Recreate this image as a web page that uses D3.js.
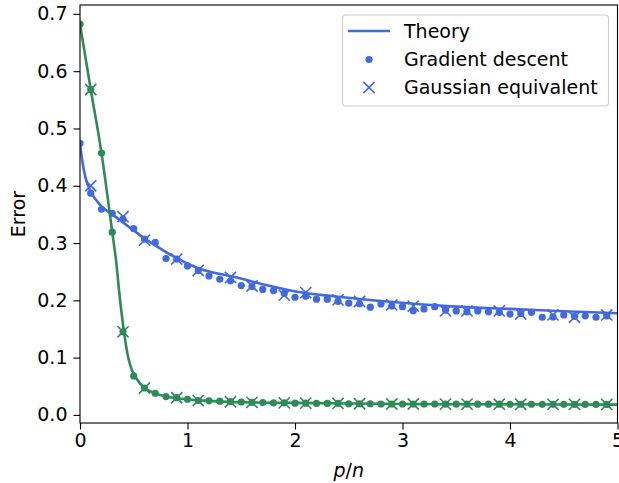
<!DOCTYPE html>
<html>
<head>
<meta charset="utf-8">
<script src="https://cdn.jsdelivr.net/npm/d3@7"></script>
<style>
  html, body { margin: 0; padding: 0; background: #fff; }
  svg { display: block; font-family: "DejaVu Sans", sans-serif; }
</style>
</head>
<body>
<svg id="chart" width="619" height="483"></svg>
<script>
// ---- data ----
const xTicks = [0, 1, 2, 3, 4, 5];
const yTicks = [0.0, 0.1, 0.2, 0.3, 0.4, 0.5, 0.6, 0.7];
const legendLabels = ["Theory", "Gradient descent", "Gaussian equivalent"];

// Blue series (theory curve, gradient descent dots, gaussian-equivalent crosses)
const blueTheoryX = [0, 0.02, 0.05, 0.1, 0.15, 0.2, 0.3, 0.4, 0.5, 0.6, 0.7, 0.8, 0.9, 1.0, 1.1, 1.25, 1.43, 1.6, 1.75, 2.05, 2.36, 2.67, 3.05, 3.5, 4.0, 4.5, 5.0];
const blueTheoryY = [0.474, 0.445, 0.415, 0.39, 0.375, 0.364, 0.350, 0.336, 0.322, 0.308, 0.296, 0.284, 0.274, 0.264, 0.256, 0.248, 0.241, 0.233, 0.226, 0.214, 0.207, 0.201, 0.195, 0.189, 0.185, 0.181, 0.1775];
const gdX = [0.0, 0.1, 0.2, 0.3, 0.4, 0.5, 0.6, 0.7, 0.8, 0.9, 1.0, 1.1, 1.2, 1.3, 1.4, 1.5, 1.6, 1.7, 1.8, 1.9, 2.0, 2.1, 2.2, 2.3, 2.4, 2.5, 2.6, 2.7, 2.8, 2.9, 3.0, 3.1, 3.2, 3.3, 3.4, 3.5, 3.6, 3.7, 3.8, 3.9, 4.0, 4.1, 4.2, 4.3, 4.4, 4.5, 4.6, 4.7, 4.8, 4.9];
const blueGD = [0.474, 0.387, 0.359, 0.352, 0.342, 0.325, 0.307, 0.301, 0.273, 0.272, 0.260, 0.252, 0.2426, 0.2368, 0.234, 0.2257, 0.224, 0.219, 0.217, 0.212, 0.2054, 0.207, 0.202, 0.202, 0.198, 0.195, 0.194, 0.188, 0.1937, 0.190, 0.189, 0.182, 0.185, 0.189, 0.183, 0.1815, 0.180, 0.1815, 0.180, 0.179, 0.176, 0.177, 0.179, 0.1705, 0.171, 0.1745, 0.172, 0.173, 0.1705, 0.173];
const geX = [0.1, 0.4, 0.6, 0.9, 1.1, 1.4, 1.6, 1.9, 2.1, 2.4, 2.6, 2.9, 3.1, 3.4, 3.6, 3.9, 4.1, 4.4, 4.6, 4.9];
const blueGE = [0.400, 0.346, 0.305, 0.272, 0.252, 0.240, 0.225, 0.209, 0.2134, 0.2007, 0.198, 0.192, 0.190, 0.1815, 0.1815, 0.1815, 0.176, 0.1745, 0.1705, 0.1745];

// Green series
const greenTheoryX = [0, 0.1, 0.2, 0.3, 0.335, 0.37, 0.41, 0.44, 0.47, 0.51, 0.55, 0.6, 0.7, 0.8, 0.9, 1.0, 1.2, 1.5, 2.0, 2.5, 3.0, 4.0, 5.0];
const greenTheoryY = [0.682, 0.568, 0.457, 0.319, 0.270, 0.205, 0.144, 0.108, 0.085, 0.068, 0.057, 0.047, 0.038, 0.032, 0.029, 0.027, 0.0245, 0.022, 0.021, 0.020, 0.019, 0.0185, 0.018];
const greenGD = [0.682, 0.568, 0.457, 0.319, 0.145, 0.068, 0.047, 0.0378, 0.032, 0.030, 0.0273, 0.025, 0.0245, 0.024, 0.023, 0.0225, 0.022, 0.0215, 0.021, 0.021, 0.0205, 0.0205, 0.020, 0.020, 0.020, 0.0195, 0.0195, 0.0195, 0.019, 0.019, 0.019, 0.019, 0.019, 0.019, 0.0188, 0.0188, 0.0188, 0.0187, 0.0187, 0.0187, 0.0186, 0.0186, 0.0186, 0.0185, 0.0185, 0.0185, 0.0184, 0.0184, 0.0184, 0.0183];
const greenGE = [0.568, 0.145, 0.047, 0.030, 0.025, 0.023, 0.022, 0.021, 0.0205, 0.020, 0.0195, 0.019, 0.019, 0.0188, 0.0188, 0.0187, 0.0186, 0.0185, 0.0184, 0.0183];

// ---- layout ----
const BLUE = "#4169e1", GREEN = "#2e8b57";
const svg = d3.select("#chart");
const L = 80, R = 617.5, T = 5, B = 423;
const x = d3.scaleLinear().domain([0, 5]).range([L, R]);
const y = d3.scaleLinear().domain([-0.01414, 0.71553]).range([B, T]);

const clipId = "plotclip";
svg.append("clipPath").attr("id", clipId).append("rect")
  .attr("x", L).attr("y", T).attr("width", R - L).attr("height", B - T);

const plot = svg.append("g").attr("clip-path", `url(#${clipId})`);

function drawSeries(tx, ty, dotsY, crossY, color) {
  const line = d3.line().x((d, i) => x(tx[i])).y((d, i) => y(ty[i])).curve(d3.curveMonotoneX);
  plot.append("path").datum(tx).attr("d", line)
    .attr("fill", "none").attr("stroke", color).attr("stroke-width", 2.6)
    .attr("stroke-linejoin", "round").attr("stroke-linecap", "butt");
  plot.append("g").selectAll("circle").data(gdX).join("circle")
    .attr("cx", d => x(d)).attr("cy", (d, i) => y(dotsY[i]))
    .attr("r", 3.6).attr("fill", color);
  const s = 5.6;
  plot.append("g").selectAll("path").data(geX).join("path")
    .attr("d", (d, i) => {
      const cx = x(d), cy = y(crossY[i]);
      return `M${cx - s},${cy - s}L${cx + s},${cy + s}M${cx - s},${cy + s}L${cx + s},${cy - s}`;
    })
    .attr("stroke", color).attr("stroke-width", 1.6).attr("fill", "none");
}
drawSeries(blueTheoryX, blueTheoryY, blueGD, blueGE, BLUE);
drawSeries(greenTheoryX, greenTheoryY, greenGD, greenGE, GREEN);

// ---- axes ----
const fs = 19;
const xAxis = svg.append("g").attr("transform", `translate(0,${B})`)
  .call(d3.axisBottom(x).tickValues(xTicks).tickFormat(d3.format("d")).tickSize(6.5).tickPadding(4));
const yAxis = svg.append("g").attr("transform", `translate(${L},0)`)
  .call(d3.axisLeft(y).tickValues(yTicks).tickFormat(d3.format(".1f")).tickSize(6.5).tickPadding(6));
[xAxis, yAxis].forEach(g => {
  g.select(".domain").remove();
  g.selectAll(".tick line").attr("stroke", "#000").attr("stroke-width", 1.1);
  g.selectAll(".tick text").attr("fill", "#000").attr("font-size", fs)
    .attr("font-family", "DejaVu Sans, sans-serif");
});

// frame
svg.append("rect").attr("x", L).attr("y", T).attr("width", R - L).attr("height", B - T)
  .attr("fill", "none").attr("stroke", "#000").attr("stroke-width", 1.1);

// axis labels
svg.append("text").attr("x", (L + R) / 2).attr("y", 477).attr("text-anchor", "middle")
  .attr("font-size", fs).attr("fill", "#000")
  .html('<tspan font-style="italic">p</tspan>/<tspan font-style="italic">n</tspan>');
svg.append("text").attr("transform", `translate(25,${(T + B) / 2}) rotate(-90)`)
  .attr("text-anchor", "middle").attr("font-size", fs).attr("fill", "#000").text("Error");

// ---- legend ----
const lg = svg.append("g");
lg.append("rect").attr("x", 342.5).attr("y", 15).attr("width", 266).attr("height", 91)
  .attr("rx", 3.5).attr("fill", "#fff").attr("fill-opacity", 0.8)
  .attr("stroke", "#cccccc").attr("stroke-width", 1.1);
const rowY = [31, 59.5, 87.5];
lg.append("line").attr("x1", 348).attr("x2", 390).attr("y1", rowY[0]).attr("y2", rowY[0])
  .attr("stroke", BLUE).attr("stroke-width", 2.6);
lg.append("circle").attr("cx", 369).attr("cy", rowY[1]).attr("r", 3.6).attr("fill", BLUE);
{
  const cx = 369, cy = rowY[2], s = 5.6;
  lg.append("path").attr("d", `M${cx - s},${cy - s}L${cx + s},${cy + s}M${cx - s},${cy + s}L${cx + s},${cy - s}`)
    .attr("stroke", BLUE).attr("stroke-width", 1.6);
}
lg.selectAll("text.lab").data(legendLabels).join("text").attr("class", "lab")
  .attr("x", 404).attr("y", (d, i) => rowY[i]).attr("dy", "0.35em")
  .attr("font-size", fs).attr("fill", "#000").text(d => d);
</script>
</body>
</html>
